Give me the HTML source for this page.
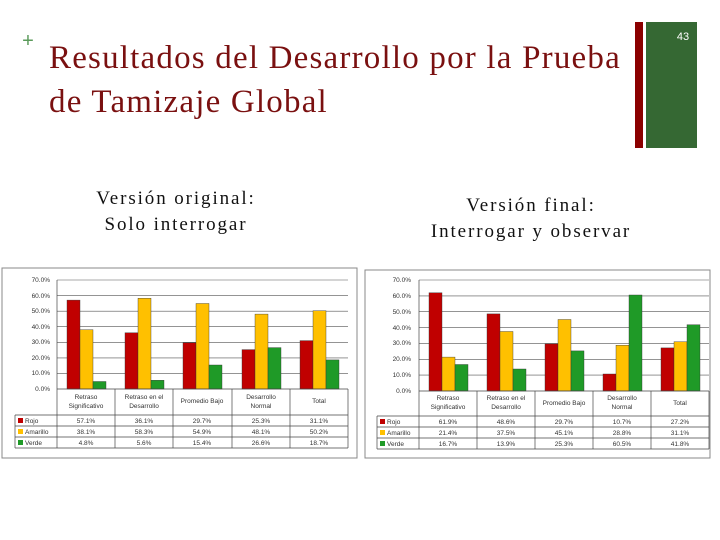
<!DOCTYPE html>
<html><head><meta charset="utf-8"><style>
html,body{margin:0;padding:0;background:#fff;width:720px;height:540px;overflow:hidden}
svg{display:block}
.t{font-family:"Liberation Sans",sans-serif;font-size:6.5px;fill:#333}
</style></head><body>
<svg width="720" height="540" xmlns="http://www.w3.org/2000/svg">
<rect x="635" y="22" width="8" height="126" fill="#8b0000"/>
<rect x="646" y="22" width="51" height="126" fill="#356833"/>
<text x="683" y="40" font-family="Liberation Sans,sans-serif" font-size="11" fill="#fff" text-anchor="middle">43</text>
<text x="28" y="47" font-family="Liberation Sans,sans-serif" font-size="20" fill="#5a9a5a" text-anchor="middle">+</text>
<g font-family="Liberation Serif,serif" font-size="33" fill="#7a1010" letter-spacing="1.2">
<text x="49" y="68">Resultados del Desarrollo por la Prueba</text>
<text x="49" y="112">de Tamizaje Global</text>
</g>
<g font-family="Liberation Serif,serif" font-size="19" fill="#111" text-anchor="middle" letter-spacing="1.9">
<text x="176" y="204">Versión original:</text>
<text x="176" y="230">Solo interrogar</text>
<text x="531" y="211">Versión final:</text>
<text x="531" y="237">Interrogar y observar</text>
</g>

<!-- LEFT CHART -->
<rect x="2" y="268" width="355" height="190" fill="#fff" stroke="#888" stroke-width="1"/>
<g stroke="#555" stroke-width="0.6">
<line x1="57" y1="280" x2="348" y2="280"/><line x1="57" y1="295.6" x2="348" y2="295.6"/>
<line x1="57" y1="311.2" x2="348" y2="311.2"/><line x1="57" y1="326.7" x2="348" y2="326.7"/>
<line x1="57" y1="342.3" x2="348" y2="342.3"/><line x1="57" y1="357.9" x2="348" y2="357.9"/>
<line x1="57" y1="373.4" x2="348" y2="373.4"/>
</g>
<g stroke="#333" stroke-width="0.4">
<rect x="67" y="300.1" width="13" height="88.9" fill="#c00000"/><rect x="125" y="332.8" width="13" height="56.2" fill="#c00000"/><rect x="183" y="342.8" width="13" height="46.2" fill="#c00000"/><rect x="242" y="349.6" width="13" height="39.4" fill="#c00000"/><rect x="300" y="340.6" width="13" height="48.4" fill="#c00000"/>
<rect x="80" y="329.7" width="13" height="59.3" fill="#ffc000"/><rect x="138" y="298.2" width="13" height="90.8" fill="#ffc000"/><rect x="196" y="303.5" width="13" height="85.5" fill="#ffc000"/><rect x="255" y="314.1" width="13" height="74.9" fill="#ffc000"/><rect x="313" y="310.8" width="13" height="78.2" fill="#ffc000"/>
<rect x="93" y="381.5" width="13" height="7.5" fill="#1f9a27"/><rect x="151" y="380.3" width="13" height="8.7" fill="#1f9a27"/><rect x="209" y="365" width="13" height="24" fill="#1f9a27"/><rect x="268" y="347.6" width="13" height="41.4" fill="#1f9a27"/><rect x="326" y="359.9" width="13" height="29.1" fill="#1f9a27"/>
</g>
<g stroke="#444" stroke-width="0.7" fill="none">
<line x1="57" y1="280" x2="57" y2="448"/>
<line x1="57" y1="389" x2="348" y2="389"/>
<line x1="15" y1="415" x2="348" y2="415"/><line x1="15" y1="426" x2="348" y2="426"/><line x1="15" y1="437" x2="348" y2="437"/><line x1="15" y1="448" x2="348" y2="448"/>
<line x1="15" y1="415" x2="15" y2="448"/>
<line x1="115" y1="389" x2="115" y2="448"/><line x1="173" y1="389" x2="173" y2="448"/><line x1="232" y1="389" x2="232" y2="448"/><line x1="290" y1="389" x2="290" y2="448"/><line x1="348" y1="389" x2="348" y2="448"/>
</g>
<g class="t" text-anchor="end">
<text x="50" y="282">70.0%</text><text x="50" y="298">60.0%</text><text x="50" y="313">50.0%</text><text x="50" y="329">40.0%</text><text x="50" y="344">30.0%</text><text x="50" y="360">20.0%</text><text x="50" y="375">10.0%</text><text x="50" y="391">0.0%</text>
</g>
<g class="t" text-anchor="middle">
<text x="86" y="399">Retraso</text><text x="86" y="408">Significativo</text>
<text x="144" y="399">Retraso en el</text><text x="144" y="408">Desarrollo</text>
<text x="202" y="403">Promedio Bajo</text>
<text x="261" y="399">Desarrollo</text><text x="261" y="408">Normal</text>
<text x="319" y="403">Total</text>
<text x="86" y="423">57.1%</text><text x="144" y="423">36.1%</text><text x="202" y="423">29.7%</text><text x="261" y="423">25.3%</text><text x="319" y="423">31.1%</text>
<text x="86" y="434">38.1%</text><text x="144" y="434">58.3%</text><text x="202" y="434">54.9%</text><text x="261" y="434">48.1%</text><text x="319" y="434">50.2%</text>
<text x="86" y="445">4.8%</text><text x="144" y="445">5.6%</text><text x="202" y="445">15.4%</text><text x="261" y="445">26.6%</text><text x="319" y="445">18.7%</text>
</g>
<rect x="18" y="418" width="5" height="5" fill="#c00000"/><rect x="18" y="429" width="5" height="5" fill="#ffc000"/><rect x="18" y="440" width="5" height="5" fill="#1f9a27"/>
<g class="t"><text x="25" y="423">Rojo</text><text x="25" y="434">Amarillo</text><text x="25" y="445">Verde</text></g>

<!-- RIGHT CHART -->
<rect x="365" y="270" width="345" height="188" fill="#fff" stroke="#888" stroke-width="1"/>
<g stroke="#555" stroke-width="0.6">
<line x1="419" y1="280" x2="709" y2="280"/><line x1="419" y1="295.9" x2="709" y2="295.9"/>
<line x1="419" y1="311.7" x2="709" y2="311.7"/><line x1="419" y1="327.6" x2="709" y2="327.6"/>
<line x1="419" y1="343.4" x2="709" y2="343.4"/><line x1="419" y1="359.3" x2="709" y2="359.3"/>
<line x1="419" y1="375.1" x2="709" y2="375.1"/>
</g>
<g stroke="#333" stroke-width="0.4">
<rect x="429" y="292.8" width="13" height="98.2" fill="#c00000"/><rect x="487" y="313.9" width="13" height="77.1" fill="#c00000"/><rect x="545" y="343.9" width="13" height="47.1" fill="#c00000"/><rect x="603" y="374" width="13" height="17" fill="#c00000"/><rect x="661" y="347.9" width="13" height="43.1" fill="#c00000"/>
<rect x="442" y="357.1" width="13" height="33.9" fill="#ffc000"/><rect x="500" y="331.5" width="13" height="59.5" fill="#ffc000"/><rect x="558" y="319.5" width="13" height="71.5" fill="#ffc000"/><rect x="616" y="345.3" width="13" height="45.7" fill="#ffc000"/><rect x="674" y="341.7" width="13" height="49.3" fill="#ffc000"/>
<rect x="455" y="364.5" width="13" height="26.5" fill="#1f9a27"/><rect x="513" y="369" width="13" height="22" fill="#1f9a27"/><rect x="571" y="350.9" width="13" height="40.1" fill="#1f9a27"/><rect x="629" y="295" width="13" height="96" fill="#1f9a27"/><rect x="687" y="324.7" width="13" height="66.3" fill="#1f9a27"/>
</g>
<g stroke="#444" stroke-width="0.7" fill="none">
<line x1="419" y1="280" x2="419" y2="449"/>
<line x1="419" y1="391" x2="709" y2="391"/>
<line x1="377" y1="416" x2="709" y2="416"/><line x1="377" y1="427" x2="709" y2="427"/><line x1="377" y1="438" x2="709" y2="438"/><line x1="377" y1="449" x2="709" y2="449"/>
<line x1="377" y1="416" x2="377" y2="449"/>
<line x1="477" y1="391" x2="477" y2="449"/><line x1="535" y1="391" x2="535" y2="449"/><line x1="593" y1="391" x2="593" y2="449"/><line x1="651" y1="391" x2="651" y2="449"/><line x1="709" y1="391" x2="709" y2="449"/>
</g>
<g class="t" text-anchor="end">
<text x="411" y="282">70.0%</text><text x="411" y="298">60.0%</text><text x="411" y="314">50.0%</text><text x="411" y="330">40.0%</text><text x="411" y="345">30.0%</text><text x="411" y="361">20.0%</text><text x="411" y="377">10.0%</text><text x="411" y="393">0.0%</text>
</g>
<g class="t" text-anchor="middle">
<text x="448" y="400">Retraso</text><text x="448" y="409">Significativo</text>
<text x="506" y="400">Retraso en el</text><text x="506" y="409">Desarrollo</text>
<text x="564" y="405">Promedio Bajo</text>
<text x="622" y="400">Desarrollo</text><text x="622" y="409">Normal</text>
<text x="680" y="405">Total</text>
<text x="448" y="424">61.9%</text><text x="506" y="424">48.6%</text><text x="564" y="424">29.7%</text><text x="622" y="424">10.7%</text><text x="680" y="424">27.2%</text>
<text x="448" y="435">21.4%</text><text x="506" y="435">37.5%</text><text x="564" y="435">45.1%</text><text x="622" y="435">28.8%</text><text x="680" y="435">31.1%</text>
<text x="448" y="446">16.7%</text><text x="506" y="446">13.9%</text><text x="564" y="446">25.3%</text><text x="622" y="446">60.5%</text><text x="680" y="446">41.8%</text>
</g>
<rect x="380" y="419" width="5" height="5" fill="#c00000"/><rect x="380" y="430" width="5" height="5" fill="#ffc000"/><rect x="380" y="441" width="5" height="5" fill="#1f9a27"/>
<g class="t"><text x="387" y="424">Rojo</text><text x="387" y="435">Amarillo</text><text x="387" y="446">Verde</text></g>
</svg>
</body></html>
